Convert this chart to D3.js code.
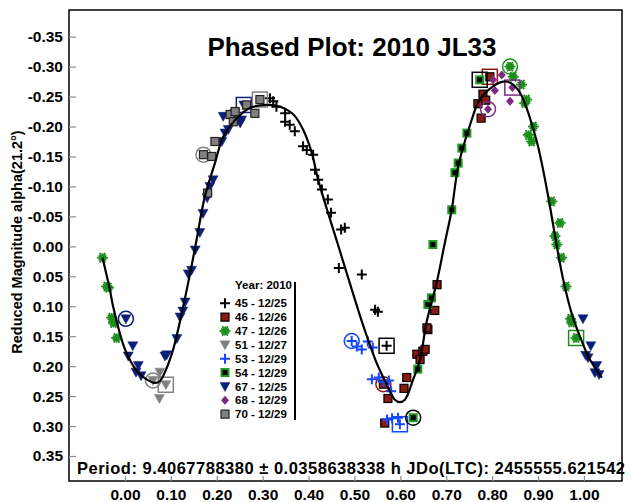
<!DOCTYPE html>
<html><head><meta charset="utf-8">
<script src="https://cdn.jsdelivr.net/npm/d3@7"></script>
<style>
html,body{margin:0;padding:0;background:#fff;}
svg{display:block;font-family:"Liberation Sans",Arial,sans-serif;}
</style></head>
<body>
<svg id="chart" width="632" height="502"></svg>
<script>
// ---------- DATA ----------
const title = "Phased Plot: 2010 JL33";
const yTitle = "Reduced Magnitude alpha(21.2°)";
const footer = "Period: 9.4067788380 ± 0.0358638338 h  JDo(LTC): 2455555.621542";
const legendTitle = "Year: 2010";
const xTicks = [0, 0.1, 0.2, 0.3, 0.4, 0.5, 0.6, 0.7, 0.8, 0.9, 1.0];
const xTickLabels = ["0.00","0.10","0.20","0.30","0.40","0.50","0.60","0.70","0.80","0.90","1.00"];
const yTicks = [-0.35,-0.30,-0.25,-0.20,-0.15,-0.10,-0.05,0,0.05,0.10,0.15,0.20,0.25,0.30,0.35];
const yTickLabels = ["-0.35","-0.30","-0.25","-0.20","-0.15","-0.10","-0.05","0.00","0.05","0.10","0.15","0.20","0.25","0.30","0.35"];
const sessionIds = ["45","46","47","51","53","54","67","68","70"];
const sessionLabels = ["45 - 12/25","46 - 12/26","47 - 12/26","51 - 12/27","53 - 12/29","54 - 12/29","67 - 12/25","68 - 12/29","70 - 12/29"];

// [phase, reduced mag, mark]  mark: 1 = first obs (circled), 2 = last obs (boxed)
const s45 = [[0.316,-0.247],[0.323,-0.242],[0.330,-0.233],[0.349,-0.222],[0.349,-0.208],[0.359,-0.203],[0.370,-0.192],[0.388,-0.167],[0.396,-0.161],[0.410,-0.153],[0.414,-0.128],[0.421,-0.111],[0.429,-0.095],[0.442,-0.078],[0.449,-0.056],[0.471,-0.028],[0.479,-0.031],[0.466,0.036],[0.516,0.047],[0.545,0.106],[0.551,0.109],[0.570,0.166,2]];
const s46 = [[0.563,0.230,1],[0.573,0.254],[0.566,0.295],[0.608,0.237],[0.614,0.219],[0.636,0.180],[0.643,0.189],[0.649,0.175],[0.654,0.172],[0.660,0.139],[0.658,0.136],[0.675,0.107],[0.680,0.064],[0.769,-0.238],[0.780,-0.254],[0.786,-0.244],[0.776,-0.214],[0.795,-0.283,2]];
const s47 = [[-0.049,0.019],[-0.040,0.067],[-0.036,0.069],[-0.029,0.119],[-0.025,0.128],[-0.018,0.153],[0.839,-0.300,1],[0.846,-0.283],[0.864,-0.270],[0.875,-0.245],[0.871,-0.239],[0.890,-0.200],[0.879,-0.186],[0.886,-0.175],[0.930,-0.075],[0.948,-0.039],[0.937,-0.017],[0.941,-0.003],[0.951,0.019],[0.961,0.067],[0.971,0.121],[0.973,0.127],[0.983,0.153,2]];
const s51 = [[0.076,0.210],[0.061,0.224,1],[0.089,0.231,2],[0.075,0.254]];
const s53 = [[0.494,0.158,1],[0.505,0.167],[0.516,0.172],[0.529,0.159],[0.540,0.169],[0.538,0.222],[0.553,0.219],[0.564,0.226],[0.575,0.224],[0.580,0.242],[0.571,0.289],[0.582,0.287],[0.595,0.286],[0.599,0.297,2]];
const s54 = [[0.628,0.286,1],[0.638,0.205],[0.660,0.097],[0.668,0.086],[0.671,-0.003],[0.712,-0.061],[0.719,-0.123],[0.726,-0.139],[0.734,-0.164],[0.745,-0.189],[0.773,-0.278,2]];
const s67 = [[0.002,0.121,1],[0.017,0.166],[0.007,0.183],[0.029,0.199],[0.024,0.210],[0.035,0.216],[0.087,0.183],[0.091,0.181],[0.113,0.154],[0.120,0.118],[0.126,0.108],[0.131,0.093],[0.138,0.046],[0.145,0.040],[0.153,0.006],[0.163,-0.023],[0.170,-0.055],[0.179,-0.081],[0.185,-0.100],[0.192,-0.111],[0.211,-0.175],[0.218,-0.189],[0.225,-0.195],[0.214,-0.217],[0.240,-0.222],[0.254,-0.211],[0.251,-0.206],[0.259,-0.236,2],[0.998,0.121],[1.015,0.166],[1.004,0.182],[1.009,0.186],[1.028,0.199],[1.024,0.211],[1.033,0.214]];
const s68 = [[0.791,-0.229,1],[0.802,-0.278],[0.806,-0.260],[0.821,-0.286],[0.839,-0.242],[0.844,-0.265,2]];
const s70 = [[0.171,-0.153,1],[0.189,-0.150],[0.196,-0.175],[0.229,-0.220],[0.236,-0.208],[0.240,-0.225],[0.265,-0.236],[0.283,-0.222],[0.294,-0.245,2],[0.180,-0.089]];

// Fourier fit curve
const fitPhase = [-0.049,-0.033,-0.026,0.000,0.026,0.047,0.065,0.076,0.087,0.105,0.127,0.145,0.156,0.174,0.196,0.214,0.240,0.272,0.309,0.338,0.367,0.388,0.407,0.421,0.464,0.508,0.527,0.548,0.570,0.588,0.599,0.610,0.628,0.643,0.657,0.679,0.697,0.712,0.726,0.752,0.773,0.802,0.824,0.842,0.861,0.875,0.890,0.900,0.911,0.926,0.941,0.955,0.973,0.991,1.013,1.039];
const fitMag   = [0.019,0.072,0.100,0.172,0.208,0.222,0.228,0.225,0.210,0.172,0.100,0.033,-0.011,-0.083,-0.139,-0.183,-0.211,-0.231,-0.236,-0.233,-0.220,-0.195,-0.156,-0.111,-0.003,0.106,0.150,0.194,0.230,0.256,0.260,0.256,0.222,0.189,0.127,0.061,-0.006,-0.061,-0.133,-0.203,-0.245,-0.267,-0.275,-0.272,-0.256,-0.231,-0.195,-0.167,-0.128,-0.067,0.000,0.056,0.111,0.150,0.189,0.219];

const sessionData = {"45":s45,"46":s46,"47":s47,"51":s51,"53":s53,"54":s54,"67":s67,"68":s68,"70":s70};

// ---------- STYLE ----------
const style = {
  "45":{shape:"plus",color:"#000000"},
  "46":{shape:"square",color:"#8b1a10"},
  "47":{shape:"star",color:"#1b8f1b"},
  "51":{shape:"tri",color:"#808080"},
  "53":{shape:"plus",color:"#1446ff"},
  "54":{shape:"gsq",color:"#1f9a1f"},
  "67":{shape:"tri",color:"#0c1f78"},
  "68":{shape:"diamond",color:"#7d2a83"},
  "70":{shape:"graysq",color:"#808080"}
};

const svg = d3.select("#chart");
const L = 69, T = 10, R = 622, B = 481;
const x = d3.scaleLinear().domain([-0.122, 1.083]).range([L, R]);
const y = d3.scaleLinear().domain([-0.3945, 0.3917]).range([T, B]);

function marker(g, shape, color) {
  if (shape === "plus") {
    g.append("path").attr("d","M-5,0H5M0,-5V5").attr("stroke",color).attr("stroke-width",2).attr("fill","none");
  } else if (shape === "square") {
    g.append("rect").attr("x",-4).attr("y",-4).attr("width",8).attr("height",8).attr("fill",color).attr("stroke","#000").attr("stroke-width",1.2);
  } else if (shape === "star") {
    for (let a = 0; a < 180; a += 30) {
      const r = (a % 60 === 0) ? 5.5 : 4.5;
      const dx = r*Math.cos(a*Math.PI/180), dy = r*Math.sin(a*Math.PI/180);
      g.append("line").attr("x1",-dx).attr("y1",-dy).attr("x2",dx).attr("y2",dy).attr("stroke",color).attr("stroke-width",1.8);
    }
    g.append("circle").attr("r",2.2).attr("fill",color);
  } else if (shape === "tri") {
    g.append("path").attr("d","M-5,-4L5,-4L0,5Z").attr("fill",color).attr("stroke",color).attr("stroke-width",0.5);
  } else if (shape === "gsq") {
    g.append("rect").attr("x",-4.5).attr("y",-4.5).attr("width",9).attr("height",9).attr("fill",color);
    g.append("rect").attr("x",-2.5).attr("y",-2.5).attr("width",5).attr("height",5).attr("fill","#000");
  } else if (shape === "diamond") {
    g.append("path").attr("d","M0,-4.5L4,0L0,4.5L-4,0Z").attr("fill",color);
  } else if (shape === "graysq") {
    g.append("rect").attr("x",-4).attr("y",-4).attr("width",8).attr("height",8).attr("fill",color).attr("stroke","#222").attr("stroke-width",1.2);
  }
}

// frame
svg.append("rect").attr("x",L).attr("y",T).attr("width",R-L).attr("height",B-T)
  .attr("fill","none").attr("stroke","#000").attr("stroke-width",1.5);

// axes (ticks inside)
const yAxis = d3.axisLeft(y).tickValues(yTicks).tickSize(-7).tickPadding(6)
  .tickFormat((d,i) => yTickLabels[i]);
const gy = svg.append("g").attr("transform",`translate(${L},0)`).call(yAxis);
gy.select(".domain").remove();
gy.selectAll(".tick line").attr("stroke","#8c8c8c").attr("stroke-width",1.2);
gy.selectAll(".tick text").attr("font-size",15.5).attr("font-weight","bold").attr("fill","#000")
  .attr("font-family","Liberation Sans, Arial, sans-serif");

const xAxis = d3.axisBottom(x).tickValues(xTicks).tickSize(-5).tickPadding(8)
  .tickFormat((d,i) => xTickLabels[i]);
const gx = svg.append("g").attr("transform",`translate(0,${B})`).call(xAxis);
gx.select(".domain").remove();
gx.selectAll(".tick line").attr("stroke","#8c8c8c").attr("stroke-width",1.2);
gx.selectAll(".tick text").attr("font-size",15.5).attr("font-weight","bold").attr("fill","#000")
  .attr("font-family","Liberation Sans, Arial, sans-serif");

// points
sessionIds.forEach(id => {
  const st = style[id];
  sessionData[id].forEach(p => {
    const g = svg.append("g").attr("transform",`translate(${x(p[0])},${y(p[1])})`);
    marker(g, st.shape, st.color);
    const ringColor = st.shape === "gsq" ? "#000" : st.color;
    if (p[2] === 1) {
      g.append("circle").attr("r",7.5).attr("fill","none").attr("stroke",ringColor).attr("stroke-width",1.5);
    } else if (p[2] === 2) {
      g.append("rect").attr("x",-7.5).attr("y",-7.5).attr("width",15).attr("height",15)
        .attr("fill","none").attr("stroke",ringColor).attr("stroke-width",1.5);
    }
  });
});

// fit curve
const fit = fitPhase.map((p,i) => [p, fitMag[i]]);
svg.append("path").datum(fit)
  .attr("d", d3.line().x(d => x(d[0])).y(d => y(d[1])).curve(d3.curveCatmullRom.alpha(0.5)))
  .attr("fill","none").attr("stroke","#000").attr("stroke-width",2.2);

// title
svg.append("text").attr("x",352).attr("y",56).attr("text-anchor","middle")
  .attr("font-size",26).attr("font-weight","bold").text(title);

// y title
svg.append("text").attr("transform","translate(22,242) rotate(-90)").attr("text-anchor","middle")
  .attr("font-size",14.5).attr("font-weight","bold").text(yTitle);

// footer
svg.append("text").attr("x",77).attr("y",474).attr("font-size",16.5).attr("font-weight","bold")
  .attr("textLength",548).attr("lengthAdjust","spacing").text(footer);

// legend
const lg = svg.append("g");
lg.append("line").attr("x1",295).attr("x2",295).attr("y1",282).attr("y2",420).attr("stroke","#000").attr("stroke-width",2);
lg.append("text").attr("x",292).attr("y",289).attr("text-anchor","end").attr("font-size",11.5).attr("font-weight","bold").text(legendTitle);
sessionIds.forEach((id,i) => {
  const yy = 303.3 + i*13.85;
  const g = lg.append("g").attr("transform",`translate(225,${yy})`);
  marker(g, style[id].shape, style[id].color);
  lg.append("text").attr("x",235).attr("y",yy).attr("dy","0.36em").attr("font-size",11.5).attr("font-weight","bold").text(sessionLabels[i]);
});
</script>
</body></html>
